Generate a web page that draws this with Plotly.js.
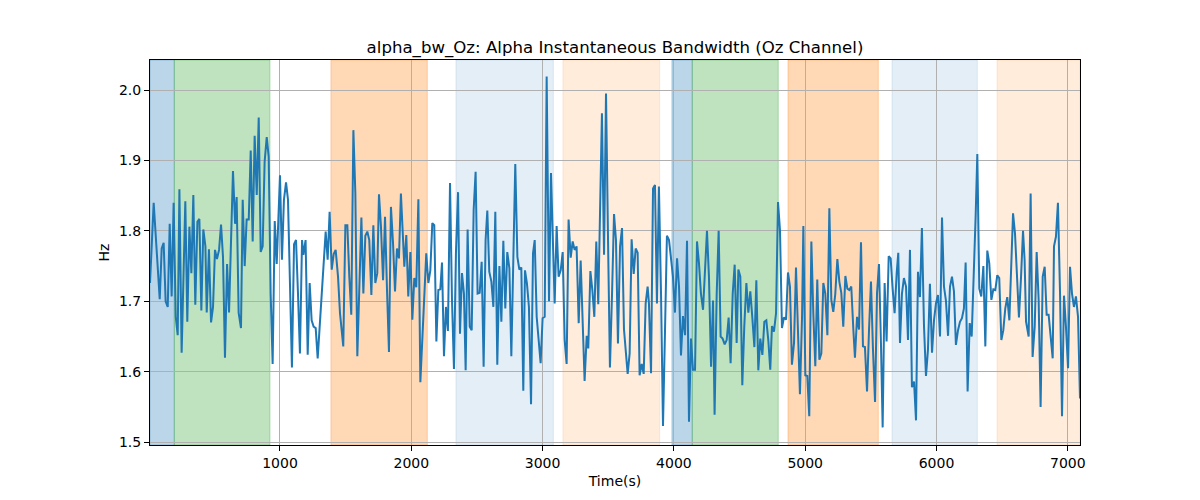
<!DOCTYPE html>
<html>
<head>
<meta charset="utf-8">
<script src="https://cdn.plot.ly/plotly-3.0.1.min.js"></script>
<style>
  body { margin: 0; background: #fff; }
  #chart { width: 1200px; height: 500px; }
</style>
</head>
<body>
<div id="chart"></div>
<script>
// time (s) of each sample and the alpha bandwidth (Hz)
const times = [
  10, 38, 84, 99, 114, 129, 145, 160, 175, 190, 206, 221, 234, 251, 279, 294, 310, 325, 340, 355,
  371, 386, 401, 416, 432, 442, 459, 475, 490, 505, 520, 536, 551, 566, 581, 597, 612, 627, 642, 658,
  670, 685, 703, 716, 731, 746, 762, 777, 792, 807, 823, 838, 853, 868, 883, 899, 914, 929, 944, 960,
  975, 1000, 1015, 1030, 1046, 1061, 1076, 1091, 1107, 1122, 1137, 1152, 1168, 1178, 1195, 1211, 1226, 1241, 1256, 1272,
  1287, 1317, 1348, 1363, 1378, 1394, 1409, 1424, 1442, 1457, 1482, 1498, 1513, 1528, 1543, 1559, 1574, 1589, 1604, 1620,
  1635, 1650, 1665, 1680, 1696, 1711, 1726, 1741, 1754, 1769, 1785, 1800, 1815, 1830, 1845, 1861, 1876, 1891, 1906, 1921,
  1947, 1962, 1977, 1993, 2008, 2023, 2038, 2054, 2069, 2084, 2099, 2114, 2130, 2145, 2160, 2175, 2191, 2206, 2221, 2234,
  2249, 2264, 2279, 2295, 2310, 2325, 2340, 2356, 2371, 2386, 2401, 2414, 2429, 2445, 2460, 2475, 2490, 2505, 2521, 2536,
  2551, 2566, 2579, 2594, 2610, 2625, 2640, 2655, 2671, 2686, 2701, 2716, 2731, 2747, 2762, 2777, 2792, 2808, 2823, 2838,
  2853, 2866, 2881, 2896, 2912, 2927, 2940, 2955, 2970, 2985, 3000, 3016, 3031, 3049, 3064, 3079, 3092, 3107, 3122, 3138,
  3153, 3168, 3183, 3198, 3214, 3229, 3244, 3259, 3275, 3290, 3305, 3320, 3336, 3348, 3364, 3379, 3394, 3409, 3424, 3440,
  3452, 3468, 3483, 3498, 3513, 3529, 3544, 3559, 3574, 3590, 3605, 3620, 3635, 3648, 3663, 3678, 3694, 3709, 3724, 3739,
  3755, 3770, 3785, 3800, 3810, 3826, 3841, 3856, 3871, 3886, 3902, 3917, 3932, 3947, 3963, 3978, 3993, 4008, 4024, 4039,
  4054, 4069, 4085, 4100, 4115, 4130, 4145, 4161, 4176, 4191, 4206, 4222, 4237, 4252, 4267, 4283, 4298, 4310, 4326, 4341,
  4356, 4371, 4387, 4402, 4417, 4432, 4448, 4463, 4478, 4491, 4506, 4521, 4536, 4552, 4567, 4582, 4597, 4613, 4628, 4643,
  4658, 4674, 4689, 4704, 4719, 4734, 4747, 4762, 4778, 4793, 4808, 4823, 4838, 4854, 4869, 4884, 4899, 4915, 4930, 4945,
  4960, 4976, 4986, 5001, 5016, 5031, 5047, 5062, 5077, 5092, 5108, 5123, 5138, 5153, 5169, 5184, 5199, 5214, 5229, 5245,
  5260, 5275, 5290, 5306, 5321, 5336, 5351, 5367, 5379, 5395, 5410, 5425, 5440, 5455, 5471, 5486, 5501, 5516, 5532, 5547,
  5562, 5577, 5590, 5605, 5620, 5636, 5651, 5666, 5681, 5697, 5709, 5722, 5737, 5752, 5768, 5783, 5798, 5813, 5829, 5844,
  5859, 5874, 5889, 5905, 5920, 5935, 5950, 5966, 5981, 5996, 6011, 6027, 6042, 6057, 6072, 6088, 6103, 6118, 6133, 6148,
  6164, 6179, 6194, 6209, 6222, 6237, 6253, 6268, 6283, 6298, 6311, 6326, 6341, 6357, 6372, 6387, 6402, 6418, 6433, 6448,
  6463, 6478, 6494, 6509, 6524, 6539, 6555, 6570, 6583, 6598, 6613, 6628, 6644, 6659, 6671, 6682, 6702, 6717, 6732, 6748,
  6763, 6778, 6793, 6809, 6824, 6839, 6854, 6870, 6885, 6895, 6910, 6925, 6941, 6956, 6971, 6986, 7002, 7017, 7032, 7047,
  7062, 7078, 7093
];
const bandwidth = [
  1.726, 1.84, 1.703, 1.775, 1.783, 1.70, 1.692, 1.81, 1.707, 1.84, 1.678, 1.652, 1.859, 1.627, 1.842, 1.671, 1.806, 1.74, 1.851, 1.695,
  1.813, 1.817, 1.687, 1.802, 1.778, 1.684, 1.774, 1.67, 1.692, 1.773, 1.76, 1.773, 1.809, 1.763, 1.62, 1.753, 1.684, 1.778, 1.885, 1.81,
  1.848, 1.684, 1.662, 1.844, 1.75, 1.816, 1.816, 1.914, 1.785, 1.935, 1.851, 1.961, 1.77, 1.778, 1.898, 1.933, 1.905, 1.711, 1.611, 1.814,
  1.753, 1.879, 1.759, 1.844, 1.869, 1.844, 1.711, 1.606, 1.781, 1.787, 1.711, 1.626, 1.787, 1.766, 1.787, 1.624, 1.726, 1.673, 1.664, 1.662,
  1.619, 1.71, 1.799, 1.759, 1.827, 1.745, 1.767, 1.773, 1.735, 1.683, 1.636, 1.808, 1.808, 1.735, 1.681, 1.943, 1.853, 1.622, 1.735, 1.819,
  1.711, 1.793, 1.799, 1.787, 1.709, 1.808, 1.726, 1.74, 1.852, 1.806, 1.73, 1.82, 1.716, 1.628, 1.834, 1.782, 1.714, 1.775, 1.761, 1.853,
  1.749, 1.794, 1.707, 1.77, 1.674, 1.733, 1.72, 1.845, 1.585, 1.65, 1.72, 1.768, 1.726, 1.744, 1.811, 1.808, 1.643, 1.716, 1.717, 1.755,
  1.622, 1.692, 1.658, 1.868, 1.702, 1.604, 1.768, 1.855, 1.654, 1.74, 1.711, 1.602, 1.802, 1.664, 1.659, 1.83, 1.884, 1.711, 1.712, 1.756,
  1.607, 1.787, 1.829, 1.742, 1.728, 1.692, 1.827, 1.61, 1.75, 1.671, 1.786, 1.69, 1.77, 1.747, 1.622, 1.759, 1.895, 1.763, 1.745, 1.748,
  1.573, 1.744, 1.725, 1.692, 1.554, 1.768, 1.787, 1.678, 1.645, 1.612, 1.676, 1.678, 2.019, 1.7, 1.882, 1.778, 1.697, 1.807, 1.735, 1.744,
  1.77, 1.645, 1.611, 1.816, 1.762, 1.785, 1.773, 1.778, 1.669, 1.758, 1.678, 1.587, 1.651, 1.633, 1.743, 1.716, 1.678, 1.785, 1.696, 1.863,
  1.967, 1.766, 1.995, 1.792, 1.606, 1.711, 1.824, 1.787, 1.64, 1.778, 1.804, 1.66, 1.631, 1.597, 1.626, 1.788, 1.739, 1.775, 1.769, 1.595,
  1.611, 1.597, 1.697, 1.721, 1.697, 1.598, 1.86, 1.865, 1.697, 1.863, 1.711, 1.523, 1.655, 1.793, 1.787, 1.759, 1.735, 1.684, 1.761, 1.721,
  1.623, 1.679, 1.652, 1.786, 1.529, 1.647, 1.603, 1.603, 1.785, 1.754, 1.711, 1.688, 1.747, 1.8, 1.735, 1.607, 1.701, 1.539, 1.71, 1.8,
  1.65, 1.647, 1.639, 1.645, 1.677, 1.612, 1.711, 1.752, 1.641, 1.745, 1.735, 1.581, 1.664, 1.726, 1.684, 1.714, 1.678, 1.635, 1.73, 1.602,
  1.647, 1.624, 1.671, 1.673, 1.645, 1.603, 1.665, 1.657, 1.683, 1.841, 1.801, 1.662, 1.677, 1.674, 1.741, 1.721, 1.61, 1.641, 1.748, 1.64,
  1.568, 1.678, 1.807, 1.595, 1.594, 1.537, 1.785, 1.682, 1.608, 1.731, 1.617, 1.626, 1.726, 1.711, 1.652, 1.832, 1.702, 1.685, 1.71, 1.76,
  1.728, 1.712, 1.664, 1.736, 1.718, 1.716, 1.721, 1.659, 1.62, 1.678, 1.66, 1.784, 1.636, 1.635, 1.572, 1.659, 1.728, 1.633, 1.557, 1.711,
  1.753, 1.64, 1.521, 1.726, 1.643, 1.764, 1.761, 1.718, 1.683, 1.74, 1.769, 1.641, 1.711, 1.733, 1.721, 1.645, 1.773, 1.578, 1.586, 1.531,
  1.742, 1.706, 1.804, 1.664, 1.594, 1.631, 1.725, 1.627, 1.673, 1.697, 1.709, 1.65, 1.819, 1.721, 1.701, 1.651, 1.721, 1.735, 1.714, 1.638,
  1.659, 1.671, 1.676, 1.69, 1.755, 1.572, 1.669, 1.65, 1.726, 1.82, 1.909, 1.718, 1.707, 1.75, 1.636, 1.772, 1.754, 1.702, 1.717, 1.716,
  1.737, 1.733, 1.645, 1.659, 1.69, 1.706, 1.673, 1.754, 1.825, 1.796, 1.73, 1.677, 1.735, 1.8, 1.759, 1.671, 1.65, 1.853, 1.621, 1.664,
  1.77, 1.702, 1.55, 1.735, 1.749, 1.681, 1.681, 1.65, 1.619, 1.778, 1.792, 1.84, 1.711, 1.537, 1.708, 1.664, 1.605, 1.749, 1.711, 1.692,
  1.707, 1.678, 1.562
];

// shaded segments: start, end, colour
const segStart = [10, 195, 1388, 2340, 3155, 3985, 4140, 4869, 5661, 6461];
const segEnd   = [195, 924, 2122, 3082, 3891, 4140, 4795, 5557, 6311, 7093];
const segColor = [
  "rgba(31,119,180,0.3)", "rgba(44,160,44,0.3)", "rgba(255,127,14,0.3)",
  "rgba(31,119,180,0.12)", "rgba(255,127,14,0.15)", "rgba(31,119,180,0.3)",
  "rgba(44,160,44,0.3)", "rgba(255,127,14,0.3)", "rgba(31,119,180,0.12)",
  "rgba(255,127,14,0.15)"
];

const shapes = segStart.map((s, i) => ({
  type: "rect", xref: "x", yref: "paper",
  x0: s, x1: segEnd[i], y0: 0, y1: 1,
  fillcolor: segColor[i],
  line: { color: segColor[i], width: 1 },
  layer: "below"
}));

const trace = {
  x: times, y: bandwidth,
  type: "scatter", mode: "lines",
  line: { color: "#1f77b4", width: 2 },
  hoverinfo: "skip"
};

const font = { family: "DejaVu Sans, sans-serif", size: 14, color: "#000" };

const layout = {
  width: 1200, height: 500,
  margin: { l: 150, r: 120, t: 60, b: 55 },
  paper_bgcolor: "#fff", plot_bgcolor: "rgba(0,0,0,0)",
  font: font,
  showlegend: false,
  title: {
    text: "alpha_bw_Oz: Alpha Instantaneous Bandwidth (Oz Channel)",
    font: { family: "DejaVu Sans, sans-serif", size: 16.6, color: "#000" },
    x: 0.5, xref: "paper", xanchor: "center",
    y: 1, yref: "paper", yanchor: "bottom", pad: { b: 7 }
  },
  xaxis: {
    range: [10, 7093],
    tickvals: [1000, 2000, 3000, 4000, 5000, 6000, 7000],
    tickformat: "d",
    showgrid: true, gridcolor: "#b0b0b0", gridwidth: 1,
    zeroline: false,
    showline: true, linecolor: "#000", linewidth: 1, mirror: true,
    ticks: "outside", ticklen: 5, tickcolor: "#000",
    title: { text: "Time(s)", font: font, standoff: 6 }
  },
  yaxis: {
    range: [1.496, 2.0426],
    tickvals: [1.5, 1.6, 1.7, 1.8, 1.9, 2.0],
    tickformat: ".1f",
    showgrid: true, gridcolor: "#b0b0b0", gridwidth: 1,
    zeroline: false,
    showline: true, linecolor: "#000", linewidth: 1, mirror: true,
    ticks: "outside", ticklen: 5, tickcolor: "#000",
    title: { text: "Hz", font: font, standoff: 6 }
  },
  shapes: shapes
};

Plotly.newPlot("chart", [trace], layout, { displayModeBar: false, staticPlot: true });
</script>
</body>
</html>
